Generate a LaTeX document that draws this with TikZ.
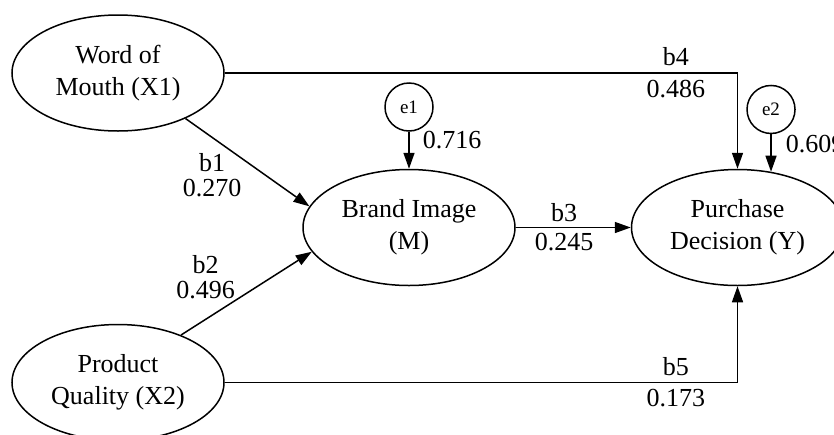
\documentclass[tikz,border=0pt]{standalone}
\usepackage{fontspec}
\setmainfont{Liberation Serif}
\usetikzlibrary{arrows.meta,positioning,shapes.geometric}

\begin{document}
\begin{tikzpicture}[node distance=18.5pt and 57.5pt, >={Triangle[length=8pt,width=5.5pt]}, line width=0.75pt,
  latent/.style={draw,ellipse,inner sep=0pt,minimum width=106pt,minimum height=58pt,align=center,font=\fontsize{13}{16}\selectfont},
  err/.style={draw,circle,inner sep=0pt,minimum size=24pt,font=\fontsize{9.5}{11}\selectfont},
  lbl/.style={inner sep=1pt,align=center,font=\fontsize{13}{12.5}\selectfont}]
\useasboundingbox (0,0) rectangle (417pt,-217pt);
\node[latent] (x1) at (59pt,-36.5pt) {Word of\\Mouth (X1)};
\node[latent,below=96pt of x1] (x2) {Product\\Quality (X2)};
\node[latent] (m) at (204.5pt,-113.75pt) {Brand Image\\(M)};
\node[latent,right=of m] (y) {Purchase\\Decision (Y)};
\node[err,above=of m] (e1) {e1};
\node[err,above=18.75pt of y.59] (e2) {e2};
\draw[->] (x1.-34) -- node[lbl,pos=0.65,left=11pt]{b1\\0.270} (m.168);
\draw[->] (x2.37) -- node[lbl,pos=0.7,left=17.5pt]{b2\\0.496} (m.194);
\draw[->] (m) -- node[lbl,pos=0.42,above=1.5pt]{b3} node[lbl,pos=0.42,below=1.5pt]{0.245} (y);
\draw[->] (x1) -| node[lbl,pos=0.44,above=2pt]{b4} node[lbl,pos=0.44,below=2pt]{0.486} (y);
\draw[->] (x2) -| node[lbl,pos=0.44,above=2pt]{b5} node[lbl,pos=0.44,below=2pt]{0.173} (y);
\draw[->] (e1) -- node[lbl,pos=0.23,right=5.5pt]{0.716} (m);
\draw[->] (e2) -- node[lbl,pos=0.25,right=6pt]{0.609} (y.59);
\end{tikzpicture}
\end{document}
